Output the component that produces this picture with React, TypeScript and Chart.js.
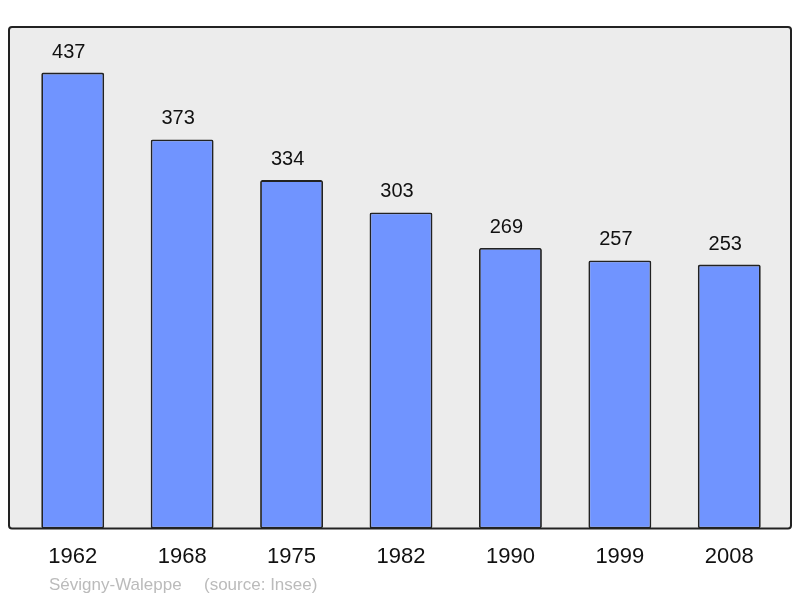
import { useRef, useEffect } from 'react';
import { Chart, ChartConfiguration, Plugin, registerables } from 'chart.js';

Chart.register(...registerables);

// population by census year
const years = ['1962', '1968', '1975', '1982', '1990', '1999', '2008'];
const population = [437, 373, 334, 303, 269, 257, 253];
const place = 'Sévigny-Waleppe';
const source = '(source: Insee)';

const frameBg: Plugin<'bar'> = {
    id: 'frameBg',
    beforeDraw(chart) {
        const { ctx, chartArea } = chart;
        ctx.save();
        ctx.fillStyle = '#ececec';
        ctx.beginPath();
        ctx.roundRect(9, chartArea.top, chart.width - 18, chartArea.bottom - chartArea.top, 3);
        ctx.fill();
        ctx.restore();
    },
};

const frameAndLabels: Plugin<'bar'> = {
    id: 'frameAndLabels',
    afterDatasetsDraw(chart) {
        const { ctx, chartArea } = chart;
        ctx.save();
        // value labels above each bar (sit a little left of centre in the original)
        const meta = chart.getDatasetMeta(0);
        ctx.fillStyle = '#111';
        ctx.font = '20px "Liberation Sans", Arial, sans-serif';
        ctx.textAlign = 'center';
        ctx.textBaseline = 'alphabetic';
        meta.data.forEach((bar, i) => {
            ctx.fillText(String(population[i]), bar.x - 4, bar.y - 15);
        });
        // frame border
        ctx.strokeStyle = '#222';
        ctx.lineWidth = 2;
        ctx.beginPath();
        ctx.roundRect(9, chartArea.top, chart.width - 18, chartArea.bottom - chartArea.top, 3);
        ctx.stroke();
        // footer
        ctx.fillStyle = '#bbb';
        ctx.font = '17px "Liberation Sans", Arial, sans-serif';
        ctx.textAlign = 'left';
        ctx.fillText(place, 49, 590);
        ctx.fillText(source, 204, 590);
        ctx.restore();
    },
};

const App = () => {
    const chartRef = useRef<HTMLCanvasElement | null>(null);
    const chartInstance = useRef<Chart | null>(null);

    useEffect(() => {
        if (!chartRef.current) return;
        const ctx = chartRef.current.getContext('2d');
        if (!ctx) return;

        const config: ChartConfiguration<'bar'> = {
            type: 'bar',
            data: {
                labels: years,
                datasets: [
                    {
                        data: population,
                        backgroundColor: '#7094ff',
                        borderColor: '#222',
                        borderWidth: 1.8,
                        borderRadius: 2,
                        borderSkipped: false,
                        barPercentage: 0.575,
                        categoryPercentage: 1,
                    },
                ],
            },
            options: {
                responsive: false,
                animation: false,
                layout: { padding: { left: 18, right: 16, top: 27, bottom: 13 } },
                plugins: {
                    legend: { display: false },
                    tooltip: { enabled: false },
                },
                scales: {
                    x: {
                        grid: { display: false, drawTicks: false },
                        border: { display: false },
                        ticks: {
                            padding: 15,
                            color: '#111',
                            font: { family: '"Liberation Sans", Arial, sans-serif', size: 22 },
                        },
                    },
                    y: {
                        display: false,
                        min: 0,
                        max: 480.7,
                    },
                },
            },
            plugins: [frameBg, frameAndLabels],
        };

        if (chartInstance.current) chartInstance.current.destroy();
        chartInstance.current = new Chart(ctx, config);

        return () => {
            if (chartInstance.current) {
                chartInstance.current.destroy();
                chartInstance.current = null;
            }
        };
    }, []);

    return (
        <div style={{ position: 'absolute', left: 0, top: 0, width: 800, height: 598, background: '#fff' }}>
            <canvas ref={chartRef} width={800} height={598} />
        </div>
    );
};

export default App;
